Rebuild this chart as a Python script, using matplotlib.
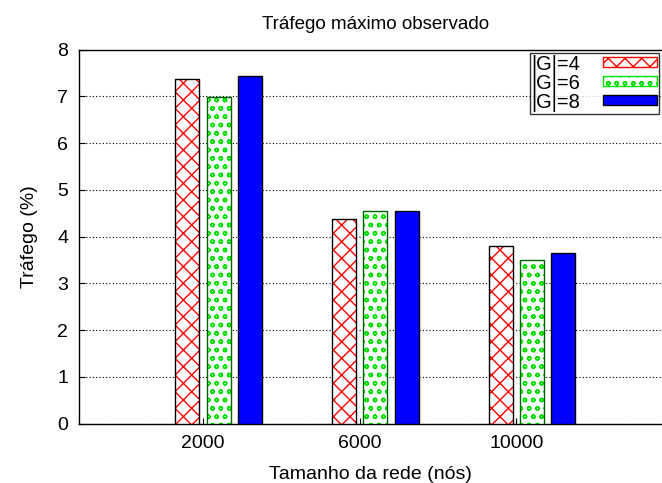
import matplotlib.pyplot as plt
from matplotlib.patches import Patch
import numpy as np

plt.rcParams['font.family'] = ['Liberation Sans', 'DejaVu Sans']
plt.rcParams['hatch.linewidth'] = 1.0

sizes = ['2000', '6000', '10000']
series = ['|G|=4', '|G|=6', '|G|=8']
traffic_g4 = [7.37, 4.38, 3.79]
traffic_g6 = [6.98, 4.55, 3.51]
traffic_g8 = [7.43, 4.55, 3.65]

values = [traffic_g4, traffic_g6, traffic_g8]
hatch_colors = ['#ff0000', '#00e000', '#0000ff']
border_colors = ['black', '#006400', 'black']
hatches = ['xx', 'oo', None]
offsets = [-0.1, 0.1, 0.3]
width = 0.153

fig = plt.figure(figsize=(6.62, 4.83), dpi=100)
ax = fig.add_axes([0.1198, 0.1228, 0.8802, 0.7747])

x = np.arange(len(sizes))
handles = []
for vals, hc, bc, h, off, name in zip(values, hatch_colors, border_colors, hatches, offsets, series):
    if h is None:
        ax.bar(x + off, vals, width, color=hc, edgecolor=bc, linewidth=1, zorder=3)
        handles.append(Patch(facecolor=hc, edgecolor=bc, linewidth=1, label=name))
    else:
        ax.bar(x + off, vals, width, facecolor='white', edgecolor=hc, hatch=h,
               linewidth=0, zorder=3)
        ax.bar(x + off, vals, width, fill=False, edgecolor=bc, linewidth=1, zorder=4)
        handles.append(Patch(facecolor='white', edgecolor=hc, hatch=h, label=name))

ax.set_xlim(-0.79, 2.93)
ax.set_ylim(0, 8)
ax.set_xticks(x)
ax.set_xticklabels(sizes)
ax.set_yticks(range(0, 9))
ax.tick_params(direction='in', length=4, labelsize=14, pad=8, width=0.8)
ax.yaxis.grid(True, color='black', linestyle=(0, (1, 2)), linewidth=0.8, zorder=1)
ax.spines['right'].set_visible(False)
for s in ['left', 'bottom', 'top']:
    ax.spines[s].set_linewidth(1.0)

ax.set_title('Tráfego máximo observado', fontsize=13.5, pad=15, x=0.508)
ax.set_xlabel('Tamanho da rede (nós)', fontsize=14, labelpad=10)
ax.set_ylabel('Tráfego (%)', fontsize=14, labelpad=14)

leg = ax.legend(handles=handles, loc='upper right', fontsize=14.5, frameon=True,
                fancybox=False, edgecolor='black', borderaxespad=0.15,
                handlelength=2.7, handleheight=0.36, labelspacing=0.0,
                markerfirst=False, borderpad=0.1, handletextpad=1.1)
leg.get_frame().set_linewidth(1.0)
leg.set_zorder(5)

fig.savefig('out.png', dpi=100)
